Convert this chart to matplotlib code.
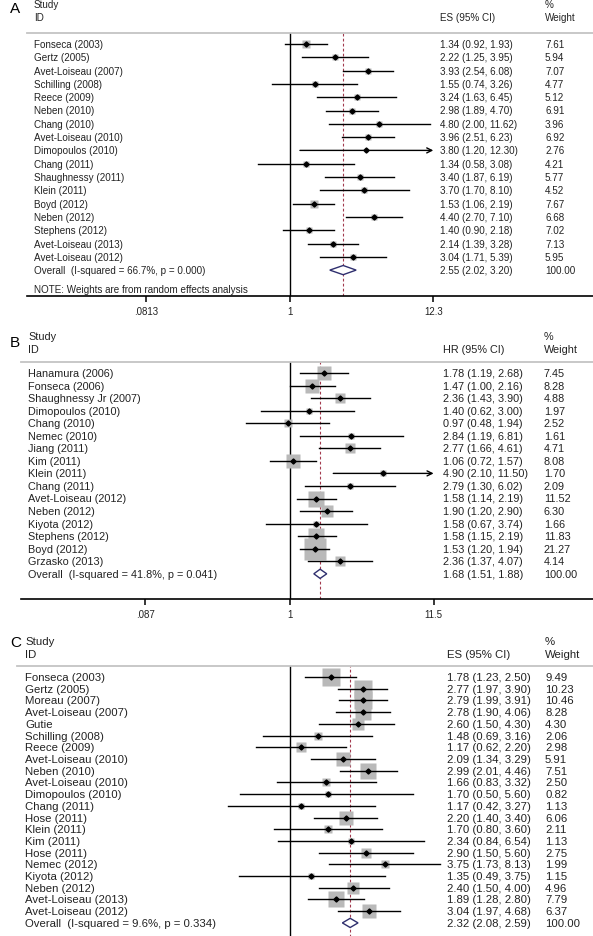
import numpy as np
import matplotlib
matplotlib.use("Agg")
import matplotlib.pyplot as plt
from matplotlib import transforms
from matplotlib.ticker import NullLocator

plt.rcParams['font.family'] = ['Liberation Sans', 'DejaVu Sans']

W, H = 593, 937

# ---- Panel A data ----
names_a = ["Fonseca (2003)", "Gertz (2005)", "Avet-Loiseau (2007)", "Schilling (2008)",
           "Reece (2009)", "Neben (2010)", "Chang (2010)", "Avet-Loiseau (2010)",
           "Dimopoulos (2010)", "Chang (2011)", "Shaughnessy (2011)", "Klein (2011)",
           "Boyd (2012)", "Neben (2012)", "Stephens (2012)", "Avet-Loiseau (2013)",
           "Avet-Loiseau (2012)"]
es_a = [1.34, 2.22, 3.93, 1.55, 3.24, 2.98, 4.80, 3.96, 3.80, 1.34, 3.40, 3.70, 1.53, 4.40, 1.40, 2.14, 3.04]
lo_a = [0.92, 1.25, 2.54, 0.74, 1.63, 1.89, 2.00, 2.51, 1.20, 0.58, 1.87, 1.70, 1.06, 2.70, 0.90, 1.39, 1.71]
hi_a = [1.93, 3.95, 6.08, 3.26, 6.45, 4.70, 11.62, 6.23, 12.30, 3.08, 6.19, 8.10, 2.19, 7.10, 2.18, 3.28, 5.39]
w_a = [7.61, 5.94, 7.07, 4.77, 5.12, 6.91, 3.96, 6.92, 2.76, 4.21, 5.77, 4.52, 7.67, 6.68, 7.02, 7.13, 5.95]
overall_a = (2.55, 2.02, 3.20)
het_a = "Overall  (I-squared = 66.7%, p = 0.000)"
ticks_a = [0.0813, 1, 12.3]
ticklab_a = [".0813", "1", "12.3"]

# ---- Panel B data ----
names_b = ["Hanamura (2006)", "Fonseca (2006)", "Shaughnessy Jr (2007)", "Dimopoulos (2010)",
           "Chang (2010)", "Nemec (2010)", "Jiang (2011)", "Kim (2011)", "Klein (2011)",
           "Chang (2011)", "Avet-Loiseau (2012)", "Neben (2012)", "Kiyota (2012)",
           "Stephens (2012)", "Boyd (2012)", "Grzasko (2013)"]
es_b = [1.78, 1.47, 2.36, 1.40, 0.97, 2.84, 2.77, 1.06, 4.90, 2.79, 1.58, 1.90, 1.58, 1.58, 1.53, 2.36]
lo_b = [1.19, 1.00, 1.43, 0.62, 0.48, 1.19, 1.66, 0.72, 2.10, 1.30, 1.14, 1.20, 0.67, 1.15, 1.20, 1.37]
hi_b = [2.68, 2.16, 3.90, 3.00, 1.94, 6.81, 4.61, 1.57, 11.50, 6.02, 2.19, 2.90, 3.74, 2.19, 1.94, 4.07]
w_b = [7.45, 8.28, 4.88, 1.97, 2.52, 1.61, 4.71, 8.08, 1.70, 2.09, 11.52, 6.30, 1.66, 11.83, 21.27, 4.14]
overall_b = (1.68, 1.51, 1.88)
het_b = "Overall  (I-squared = 41.8%, p = 0.041)"
ticks_b = [0.087, 1, 11.5]
ticklab_b = [".087", "1", "11.5"]

# ---- Panel C data ----
names_c = ["Fonseca (2003)", "Gertz (2005)", "Moreau (2007)", "Avet-Loiseau (2007)", "Gutie",
           "Schilling (2008)", "Reece (2009)", "Avet-Loiseau (2010)", "Neben (2010)",
           "Avet-Loiseau (2010)", "Dimopoulos (2010)", "Chang (2011)", "Hose (2011)",
           "Klein (2011)", "Kim (2011)", "Hose (2011)", "Nemec (2012)", "Kiyota (2012)",
           "Neben (2012)", "Avet-Loiseau (2013)", "Avet-Loiseau (2012)"]
es_c = [1.78, 2.77, 2.79, 2.78, 2.60, 1.48, 1.17, 2.09, 2.99, 1.66, 1.70, 1.17, 2.20, 1.70, 2.34, 2.90, 3.75, 1.35, 2.40, 1.89, 3.04]
lo_c = [1.23, 1.97, 1.99, 1.90, 1.50, 0.69, 0.62, 1.34, 2.01, 0.83, 0.50, 0.42, 1.40, 0.80, 0.84, 1.50, 1.73, 0.49, 1.50, 1.28, 1.97]
hi_c = [2.50, 3.90, 3.91, 4.06, 4.30, 3.16, 2.20, 3.29, 4.46, 3.32, 5.60, 3.27, 3.40, 3.60, 6.54, 5.60, 8.13, 3.75, 4.00, 2.80, 4.68]
w_c = [9.49, 10.23, 10.46, 8.28, 4.30, 2.06, 2.98, 5.91, 7.51, 2.50, 0.82, 1.13, 6.06, 2.11, 1.13, 2.75, 1.99, 1.15, 4.96, 7.79, 6.37]
overall_c = (2.32, 2.08, 2.59)
het_c = "Overall  (I-squared = 9.6%, p = 0.334)"

TXT = '#222222'
BOX = '#b9b9b9'

fig = plt.figure(figsize=(W / 100, H / 100), dpi=100)


def fx(px):
    return px / W


def fy(py):
    return 1 - py / H


def panel(letter, names, est, lo, hi, wt, overall, het, col_head, ticks, ticklabs,
          letter_y, study_y, line_y, row0, step, axis_y, left, null_x, k,
          label_x, est_x, wt_x, fs, box_c, note=None):
    ax = fig.add_axes([fx(left), fy(axis_y), fx(W - left), (axis_y - line_y) / H])
    ax.set_xscale('log')
    ax.set_xlim(np.exp((left - null_x) / k), np.exp((W - null_x) / k))
    ax.set_ylim((axis_y - row0) / step, (line_y - row0) / step)
    ax.xaxis.set_minor_locator(NullLocator())
    ax.set_yticks([])
    for s in ['left', 'right']:
        ax.spines[s].set_visible(False)
    ax.spines['top'].set_color('#c4c4c4')
    ax.spines['top'].set_linewidth(1.3)
    if ticks:
        ax.spines['bottom'].set_linewidth(1.2)
        ax.set_xticks(ticks)
        ax.set_xticklabels(ticklabs)
        ax.tick_params(axis='x', direction='out', length=4, width=1.1, pad=3,
                       labelsize=7, labelcolor=TXT)
    else:
        ax.spines['bottom'].set_visible(False)
        ax.set_xticks([])
    ax.patch.set_alpha(0)

    n = len(names)
    rows = np.arange(n)
    ax.axvline(1, color='black', lw=1.0, zorder=1)
    ax.axvline(overall[0], color='#a33a4e', lw=0.8, ls=(0, (2.5, 2)), zorder=1)
    xmax = ticks[-1] if ticks else None
    for i in rows:
        ax.plot(est[i], i, 's', ms=box_c * np.sqrt(wt[i]) * 0.72, mfc=BOX, mec='none', zorder=2)
        if xmax is not None and hi[i] >= xmax * 0.999:
            ax.annotate('', xy=(xmax, i), xytext=(lo[i], i),
                        arrowprops=dict(arrowstyle='->', lw=1.0, color='black',
                                        shrinkA=0, shrinkB=0, mutation_scale=9), zorder=3)
        else:
            ax.plot([lo[i], hi[i]], [i, i], color='black', lw=1.0, zorder=3)
        ax.plot(est[i], i, 'D', ms=2.6, color='black', zorder=4)
    o, ol, oh = overall
    h = 4.6 / step
    ax.fill([ol, o, oh, o], [n, n - h, n, n + h], facecolor='white',
            edgecolor='#2f2f6e', lw=1.0, zorder=4)

    tr = transforms.blended_transform_factory(fig.transFigure, ax.transData)
    for i in rows:
        ax.text(fx(label_x), i, names[i], transform=tr, fontsize=fs, color=TXT, va='center')
        ax.text(fx(est_x), i, "%.2f (%.2f, %.2f)" % (est[i], lo[i], hi[i]), transform=tr,
                fontsize=fs, color=TXT, va='center')
        ax.text(fx(wt_x), i, "%.2f" % wt[i], transform=tr, fontsize=fs, color=TXT, va='center')
    ax.text(fx(label_x), n, het, transform=tr, fontsize=fs, color=TXT, va='center')
    ax.text(fx(est_x), n, "%.2f (%.2f, %.2f)" % overall, transform=tr, fontsize=fs,
            color=TXT, va='center')
    ax.text(fx(wt_x), n, "100.00", transform=tr, fontsize=fs, color=TXT, va='center')
    if note:
        ax.text(fx(label_x), note[1], note[0], transform=tr, fontsize=fs, color=TXT, va='center')

    # headers
    fig.text(fx(10), fy(letter_y), letter, fontsize=11, color='black', va='center')
    fig.text(fx(label_x), fy(study_y), "Study", fontsize=fs, color=TXT, va='center')
    fig.text(fx(label_x), fy(study_y + 13), "ID", fontsize=fs, color=TXT, va='center')
    fig.text(fx(est_x), fy(study_y + 13), col_head, fontsize=fs, color=TXT, va='center')
    fig.text(fx(wt_x), fy(study_y), "%", fontsize=fs, color=TXT, va='center')
    fig.text(fx(wt_x), fy(study_y + 13), "Weight", fontsize=fs, color=TXT, va='center')
    return ax


panel("A", names_a, es_a, lo_a, hi_a, w_a, overall_a, het_a, "ES (95% CI)", ticks_a, ticklab_a,
      letter_y=9, study_y=5, line_y=34, row0=45, step=13.3, axis_y=297, left=27,
      null_x=289.5, k=57.3, label_x=34, est_x=440, wt_x=545, fs=7.1, box_c=2.6,
      note=("NOTE: Weights are from random effects analysis", (290 - 45) / 13.3))

panel("B", names_b, es_b, lo_b, hi_b, w_b, overall_b, het_b, "HR (95% CI)", ticks_b, ticklab_b,
      letter_y=343, study_y=337, line_y=363, row0=374, step=12.55, axis_y=600, left=21,
      null_x=289.5, k=59.0, label_x=28, est_x=443, wt_x=544, fs=7.8, box_c=4.77)

panel("C", names_c, es_c, lo_c, hi_c, w_c, overall_c, het_c, "ES (95% CI)", None, None,
      letter_y=643, study_y=642, line_y=667, row0=678, step=11.71, axis_y=945, left=17,
      null_x=290, k=71.5, label_x=25, est_x=447, wt_x=545, fs=8.2, box_c=5.57)

fig.savefig("out.png", dpi=100)
